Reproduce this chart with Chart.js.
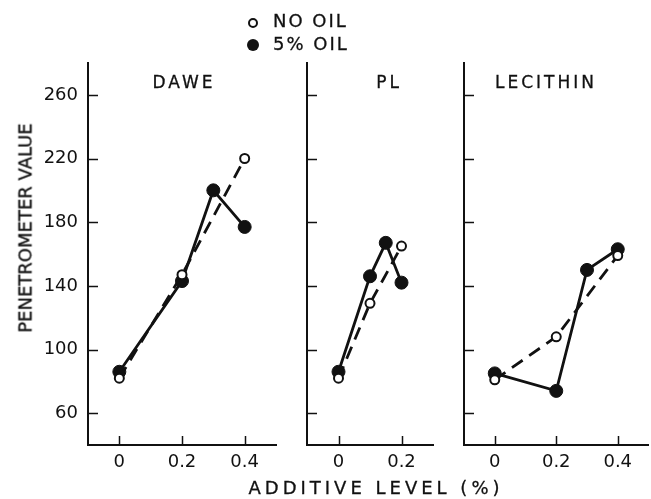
<!DOCTYPE html>
<html>
<head>
<meta charset="utf-8">
<script src="https://cdn.jsdelivr.net/npm/chart.js@4.4.1/dist/chart.umd.min.js"></script>
<style>
  html, body { margin: 0; padding: 0; background: #fff; overflow: hidden; }
  #wrap { position: relative; width: 651px; height: 499px; overflow: hidden; font-family: "DejaVu Sans", sans-serif; color: #111; }
  canvas { position: absolute; top: 0; }
  .lbl { position: absolute; transform: translate(-50%, -50%); white-space: nowrap; -webkit-text-stroke: 0.3px #111; }
  .ptitle { font-size: 17px; letter-spacing: 3px; }
  .leg { position: absolute; font-size: 18px; letter-spacing: 2px; white-space: nowrap; -webkit-text-stroke: 0.3px #111; }
  .dot { position: absolute; border-radius: 50%; box-sizing: border-box; }
</style>
</head>
<body>
<div id="wrap">
  <canvas id="c1" width="290" height="499" style="left:0;width:290px;height:499px"></canvas>
  <canvas id="c2" width="160" height="499" style="left:290px;width:160px;height:499px"></canvas>
  <canvas id="c3" width="206" height="499" style="left:450px;width:206px;height:499px"></canvas>

  <div class="dot" style="left:248px;top:18px;width:10px;height:10px;border:2px solid #111;background:#fff"></div>
  <div class="dot" style="left:247px;top:39px;width:12px;height:12px;background:#111"></div>
  <div class="leg" style="left:273px;top:10px">NO OIL</div>
  <div class="leg" style="left:273px;top:33px">5% OIL</div>

  <div class="lbl ptitle" style="left:184px;top:82px">DAWE</div>
  <div class="lbl ptitle" style="left:389px;top:82px">PL</div>
  <div class="lbl ptitle" style="left:546px;top:82px">LECITHIN</div>

  <div class="lbl" style="left:25px;top:228px;font-size:18px;transform:translate(-50%,-50%) rotate(-90deg)">PENETROMETER VALUE</div>
  <div class="lbl" style="left:376px;top:487px;font-size:18px;letter-spacing:4px">ADDITIVE LEVEL (%)</div>
</div>
<script>
// y axis ticks shared by all panels
const yTickValues = [60, 100, 140, 180, 220, 260];

// DAWE
const daweTicks = [0, 0.2, 0.4];
const daweNoOilX = [0, 0.2, 0.4];
const daweNoOilY = [82, 147, 220];
const daweOilX = [0, 0.2, 0.3, 0.4];
const daweOilY = [86, 143, 200, 177];

// PL
const plTicks = [0, 0.2];
const plNoOilX = [0, 0.1, 0.2];
const plNoOilY = [82, 129, 165];
const plOilX = [0, 0.1, 0.15, 0.2];
const plOilY = [86, 146, 167, 142];

// LECITHIN
const lecTicks = [0, 0.2, 0.4];
const lecNoOilX = [0, 0.2, 0.4];
const lecNoOilY = [81, 108, 159];
const lecOilX = [0, 0.2, 0.3, 0.4];
const lecOilY = [85, 74, 150, 163];

const ink = '#111';
const tickFont = { family: 'DejaVu Sans', size: 18 };

function pts(xs, ys) {
  return xs.map((x, i) => ({ x: x, y: ys[i] }));
}

// tick marks pointing into the plot, placed with the chart's own scales
const innerTicks = {
  id: 'innerTicks',
  afterDraw(chart, args, opts) {
    const ctx = chart.ctx, a = chart.chartArea;
    const xs = chart.scales.x, ys = chart.scales.y;
    ctx.save();
    ctx.strokeStyle = ink;
    ctx.lineWidth = 1.5;
    ctx.beginPath();
    opts.x.forEach(v => {
      const px = Math.round(xs.getPixelForValue(v)) + 0.5;
      ctx.moveTo(px, a.bottom);
      ctx.lineTo(px, a.bottom - 9);
    });
    opts.y.forEach(v => {
      const py = Math.round(ys.getPixelForValue(v)) + 0.5;
      ctx.moveTo(a.left, py);
      ctx.lineTo(a.left + 10, py);
    });
    ctx.stroke();
    ctx.restore();
  }
};

function panel(id, xMax, xTicks, noOil, oil, yWidth, rightPad, showY) {
  return new Chart(document.getElementById(id), {
    type: 'line',
    data: {
      datasets: [
        {
          label: 'NO OIL',
          data: noOil,
          borderColor: ink,
          borderWidth: 2.8,
          borderDash: [13, 8],
          pointRadius: 4.5,
          pointBorderWidth: 2,
          pointBackgroundColor: '#fff',
          pointBorderColor: ink,
          tension: 0
        },
        {
          label: '5% OIL',
          data: oil,
          borderColor: ink,
          borderWidth: 2.8,
          pointRadius: 6.5,
          pointBorderWidth: 1,
          pointBackgroundColor: ink,
          pointBorderColor: ink,
          tension: 0
        }
      ]
    },
    options: {
      responsive: false,
      animation: false,
      events: [],
      layout: { padding: { top: 63, right: rightPad, left: 0, bottom: 0 } },
      plugins: {
        legend: { display: false },
        tooltip: { enabled: false },
        innerTicks: { x: xTicks, y: yTickValues }
      },
      scales: {
        x: {
          type: 'linear',
          min: -0.1,
          max: xMax,
          afterBuildTicks: s => { s.ticks = xTicks.map(v => ({ value: v })); },
          afterFit: s => { s.height = 54; },
          grid: { display: false, drawTicks: false },
          border: { display: true, color: ink, width: 2 },
          ticks: {
            color: ink,
            font: tickFont,
            padding: 7,
            maxRotation: 0,
            callback: v => String(v)
          }
        },
        y: {
          min: 40,
          max: 280,
          afterBuildTicks: s => { s.ticks = yTickValues.map(v => ({ value: v })); },
          afterFit: s => { s.width = yWidth; },
          grid: { display: false, drawTicks: false },
          border: { display: true, color: ink, width: 2 },
          ticks: {
            display: showY,
            color: ink,
            font: tickFont,
            padding: 10
          }
        }
      }
    },
    plugins: [innerTicks]
  });
}

panel('c1', 0.5, daweTicks, pts(daweNoOilX, daweNoOilY), pts(daweOilX, daweOilY), 88, 14, true);
panel('c2', 0.3, plTicks, pts(plNoOilX, plNoOilY), pts(plOilX, plOilY), 17, 17, false);
panel('c3', 0.5, lecTicks, pts(lecNoOilX, lecNoOilY), pts(lecOilX, lecOilY), 14, 2, false);
</script>
</body>
</html>
